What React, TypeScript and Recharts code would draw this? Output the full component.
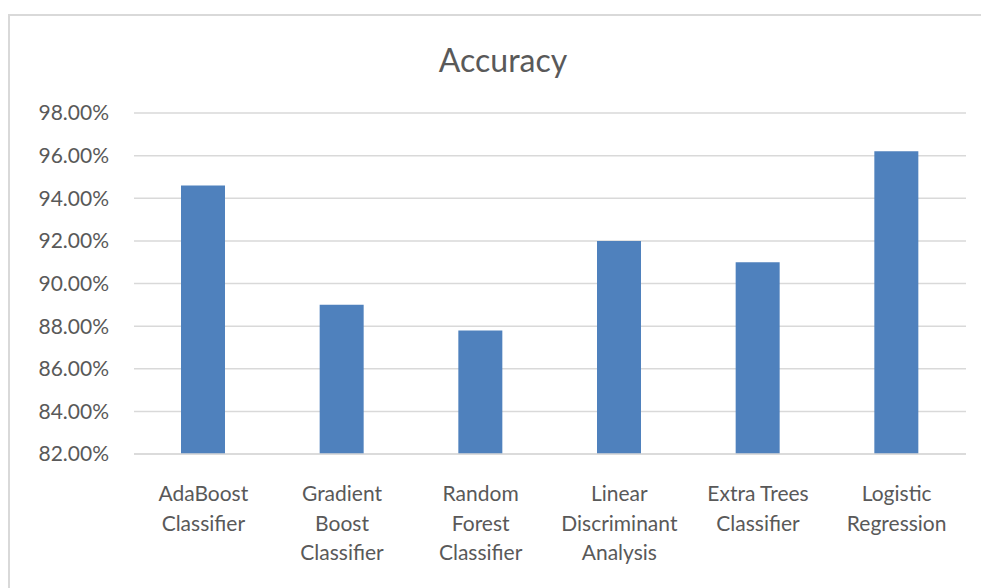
import { BarChart, Bar, XAxis, YAxis, CartesianGrid } from 'recharts'

const CATEGORIES = [
  'AdaBoost\nClassifier',
  'Gradient\nBoost\nClassifier',
  'Random\nForest\nClassifier',
  'Linear\nDiscriminant\nAnalysis',
  'Extra Trees\nClassifier',
  'Logistic\nRegression',
]
const ACCURACY = [94.6, 89.0, 87.8, 92.0, 91.0, 96.2]
const Y_TICKS = [82, 84, 86, 88, 90, 92, 94, 96, 98]

const FONT = 'Lato, "Open Sans", sans-serif'
const TEXT = '#595959'

const data = CATEGORIES.map((name, i) => ({ name, accuracy: ACCURACY[i] }))

function CategoryTick({ x, y, payload }: any) {
  const lines = String(payload.value).split('\n')
  return (
    <text x={x} y={y} textAnchor="middle" fill={TEXT} fontSize={21} fontFamily={FONT}>
      {lines.map((line, i) => (
        <tspan key={i} x={x} dy={i === 0 ? 47 : 29.5}>
          {line}
        </tspan>
      ))}
    </text>
  )
}

export default function App() {
  // fixed so the frame can run off the right/bottom edge without scrollbars
  return (
    <div style={{ position: 'fixed', left: 8, top: 14, width: 973, height: 574, overflow: 'hidden' }}>
      <div
        style={{
          width: 1000,
          height: 600,
          borderLeft: '2px solid #d9d9d9',
          borderTop: '2px solid #d9d9d9',
          background: '#fff',
          position: 'relative',
        }}
      >
        <div
          style={{
            position: 'absolute',
            left: 0,
            top: 24,
            width: 986,
            textAlign: 'center',
            fontFamily: FONT,
            fontSize: 32,
            color: TEXT,
          }}
        >
          Accuracy
        </div>
        <BarChart
          width={970}
          height={574}
          data={data}
          margin={{ top: 97, right: 14, bottom: 16, left: 0 }}
          barSize={44}
        >
          <CartesianGrid vertical={false} stroke="#d9d9d9" strokeWidth={1.5} />
          <XAxis
            dataKey="name"
            interval={0}
            height={120}
            tickLine={false}
            tickSize={0}
            tickMargin={0}
            axisLine={{ stroke: '#d9d9d9', strokeWidth: 1.5 }}
            tick={<CategoryTick />}
          />
          <YAxis
            width={124}
            domain={[82, 98]}
            ticks={Y_TICKS}
            allowDataOverflow
            axisLine={false}
            tickLine={false}
            tickSize={0}
            tickMargin={25}
            tickFormatter={(v: number) => `${v.toFixed(2)}%`}
            tick={{ fill: TEXT, fontSize: 21, fontFamily: FONT }}
          />
          <Bar dataKey="accuracy" fill="#4f81bd" isAnimationActive={false} />
        </BarChart>
      </div>
    </div>
  )
}
